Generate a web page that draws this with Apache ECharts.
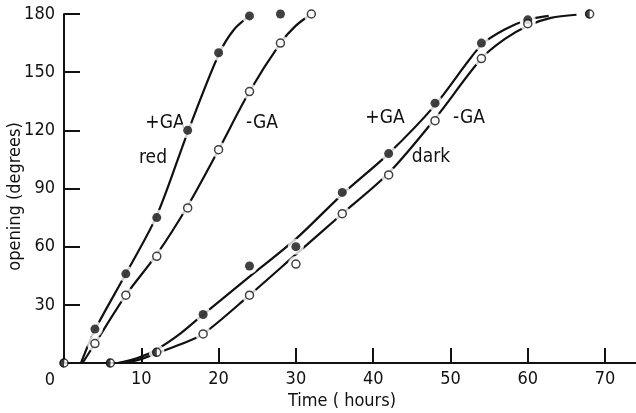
<!DOCTYPE html>
<html lang="en">
<head>
    <meta charset="UTF-8">
    <title>opening vs time</title>
    <script src="https://cdn.jsdelivr.net/npm/echarts@6/dist/echarts.min.js"></script>
</head>
<body style="margin:0">
    <div id="main" style="width: 636px; height: 413px;"></div>
    <script>
        // measured points (hours, degrees)
        const redHours = [4, 8, 12, 16, 20, 24, 28];
        const redPlusGA = [17.5, 46, 75, 120, 160, 179, 180];
        const redMinusHours = [4, 8, 12, 16, 20, 24, 28, 32];
        const redMinusGA = [10, 35, 55, 80, 110, 140, 165, 180];
        const darkHours = [18, 24, 30, 36, 42, 48, 54, 60];
        const darkPlusGA = [25, 50, 60, 88, 108, 134, 165, 177];
        const darkMinusGA = [15, 35, 51, 77, 97, 125, 157, 175];
        // points shared by both treatments (half filled)
        const sharedHours = [0, 6, 12, 68];
        const sharedDeg = [0, 0, 5.5, 180];

        // hand-drawn fitted curves
        const redPlusCurve = [[2.2, 0], [4, 17], [8, 46], [12, 76], [16, 119], [20, 159], [22, 172], [24, 179]];
        const redMinusCurve = [[2.4, 0], [4, 10], [8, 35], [12, 56], [16, 81], [20, 110], [24, 140], [28, 165], [30, 174], [32, 180]];
        const darkPlusCurve = [[7, 0], [9.5, 2.5], [12, 7], [15, 15], [18, 25], [24, 44.5], [30, 64], [36, 87], [42, 108], [48, 133], [54, 164], [57, 172], [60, 177], [62.7, 179]];
        const darkMinusCurve = [[7, 0], [9.5, 1.5], [12, 5], [15, 9.5], [18, 15], [24, 35], [30, 56], [36, 77], [42, 98], [48, 126], [54, 157], [57, 167], [60, 174], [63, 178], [66.3, 179.6]];

        const xTicks = [10, 20, 30, 40, 50, 60, 70];

        const font = "'DejaVu Sans Condensed', 'Liberation Sans', sans-serif";
        const ink = '#111';

        const zip = (xs, ys) => xs.map((x, i) => [x, ys[i]]);
        const filled = zip(redHours, redPlusGA).concat(zip(darkHours, darkPlusGA));
        const open = zip(redMinusHours, redMinusGA).concat(zip(darkHours, darkMinusGA));
        const shared = zip(sharedHours, sharedDeg);

        function curve(data) {
            return {
                type: 'line',
                data: data,
                smooth: 0.3,
                showSymbol: false,
                silent: true,
                lineStyle: { color: ink, width: 2.2 },
                z: 2
            };
        }

        function note(text, x, y) {
            return { type: 'text', x: x, y: y, style: { text: text, font: '19px ' + font, fill: ink, align: 'center', verticalAlign: 'middle' } };
        }

        var myChart = echarts.init(document.getElementById('main'));
        option = {
            animation: false,
            grid: { left: 64, right: 0, top: 14, bottom: 50, outerBoundsMode: 'none' },
            xAxis: {
                type: 'value',
                min: 0,
                max: 74,
                interval: 10,
                splitLine: { show: false },
                axisLine: { lineStyle: { color: ink, width: 2 } },
                axisTick: { inside: true, length: 15, customValues: xTicks, lineStyle: { color: ink, width: 2 } },
                axisLabel: {
                    customValues: xTicks,
                    margin: 7,
                    color: ink,
                    fontFamily: font,
                    fontSize: 18
                },
                name: 'Time ( hours)',
                nameLocation: 'middle',
                nameGap: 29,
                nameMoveOverlap: false,
                nameTextStyle: { color: ink, fontFamily: font, fontSize: 18, padding: [0, 16, 0, 0] }
            },
            yAxis: {
                type: 'value',
                min: 0,
                max: 180,
                interval: 30,
                splitLine: { show: false },
                axisLine: { show: true, lineStyle: { color: ink, width: 2 } },
                axisTick: { show: true, inside: true, length: 16, lineStyle: { color: ink, width: 2 } },
                axisLabel: {
                    margin: 9,
                    color: ink,
                    fontFamily: font,
                    fontSize: 18,
                    formatter: v => v === 0 ? '' : String(v)
                },
                name: 'opening (degrees)',
                nameLocation: 'middle',
                nameGap: 40,
                nameMoveOverlap: false,
                nameTextStyle: { color: ink, fontFamily: font, fontSize: 18, padding: [0, 16, 0, 0] }
            },
            graphic: [
                { type: 'text', x: 50, y: 380, style: { text: '0', font: '18px ' + font, fill: ink, align: 'center', verticalAlign: 'middle' } },
                note('+GA', 165, 123),
                note('-GA', 262, 123),
                note('red', 153, 158),
                note('+GA', 385, 118),
                note('-GA', 469, 118),
                note('dark', 431, 157)
            ],
            series: [
                curve(redPlusCurve),
                curve(redMinusCurve),
                curve(darkPlusCurve),
                curve(darkMinusCurve),
                {
                    // white halo so the curves break around the points
                    type: 'scatter',
                    data: filled.concat(open).concat(shared.filter(p => p[1] > 0)),
                    symbolSize: 16,
                    itemStyle: { color: '#fff' },
                    silent: true,
                    z: 3
                },
                {
                    type: 'scatter',
                    data: filled,
                    symbolSize: 9,
                    itemStyle: { color: ink },
                    z: 4
                },
                {
                    type: 'scatter',
                    data: open.concat(shared),
                    symbolSize: 8,
                    itemStyle: { color: '#fff', borderColor: ink, borderWidth: 1.5 },
                    z: 4
                },
                {
                    type: 'scatter',
                    data: shared,
                    symbol: 'path://M50,0 A50,50 0 0 0 50,100 Z',
                    symbolSize: [4.5, 9],
                    symbolOffset: [-2.2, 0],
                    itemStyle: { color: ink },
                    z: 5
                }
            ]
        };
        myChart.setOption(option);
    </script>
</body>
</html>
